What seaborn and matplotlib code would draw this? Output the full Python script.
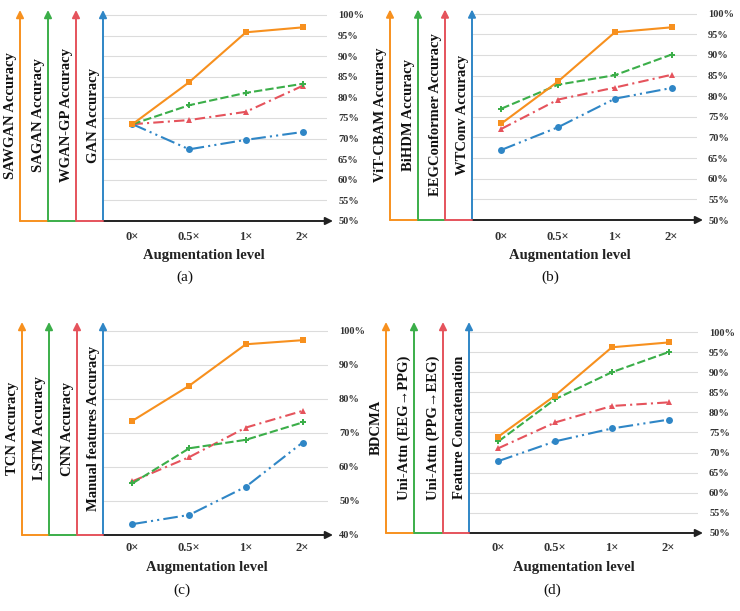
import numpy as np
import pandas as pd
import seaborn as sns
import matplotlib.pyplot as plt
from matplotlib.lines import Line2D

levels = ["0×", "0.5×", "1×", "2×"]

# (a) GAN variants
gan_names = ["SAWGAN Accuracy", "SAGAN Accuracy", "WGAN-GP Accuracy", "GAN Accuracy"]
sawgan_acc = [73.5, 83.7, 95.8, 97.0]
sagan_acc = [73.5, 78.1, 81.1, 83.3]
wgangp_acc = [73.5, 74.5, 76.5, 82.8]
gan_acc = [73.5, 67.4, 69.7, 71.6]

# (b) EEG models
eeg_names = ["ViT-CBAM Accuracy", "BiHDM Accuracy", "EEGConformer Accuracy", "WTConv Accuracy"]
vitcbam_acc = [73.4, 83.6, 95.5, 96.7]
bihdm_acc = [77.0, 82.8, 85.1, 90.1]
eegconformer_acc = [72.1, 79.2, 82.1, 85.2]
wtconv_acc = [67.0, 72.5, 79.4, 82.0]

# (c) classifiers
clf_names = ["TCN Accuracy", "LSTM Accuracy", "CNN Accuracy", "Manual features Accuracy"]
tcn_acc = [73.6, 83.9, 96.1, 97.3]
lstm_acc = [55.2, 65.5, 68.0, 73.1]
cnn_acc = [55.8, 62.9, 71.6, 76.5]
manual_acc = [43.2, 45.9, 54.2, 67.2]

# (d) fusion strategies
fusion_names = ["BDCMA", "Uni-Attn (EEG→PPG)", "Uni-Attn (PPG→EEG)", "Feature Concatenation"]
bdcma_acc = [74.0, 84.2, 96.2, 97.4]
eeg2ppg_acc = [72.8, 83.3, 90.0, 95.0]
ppg2eeg_acc = [71.1, 77.5, 81.6, 82.5]
concat_acc = [67.9, 72.8, 76.0, 78.2]

ticks_5 = [50, 55, 60, 65, 70, 75, 80, 85, 90, 95, 100]
ticks_10 = [40, 50, 60, 70, 80, 90, 100]

colors = ["#F7901E", "#3BAE49", "#E5535C", "#2F86C6"]
markers = ["s", "P", "^", "o"]
dash_styles = ["", (4, 1.5), (5, 2, 1, 2), (7, 2, 1, 2, 1, 2)]

sns.set_theme(style="white")
plt.rcParams["font.family"] = ["Liberation Serif", "DejaVu Serif"]

W, H = 740, 611
fig = plt.figure(figsize=(7.4, 6.11), dpi=100)


def fx(px):
    return px / W


def fy(px):
    return 1 - px / H


def draw_panel(names, values, yticks, axis_x, bottom, top, y100, grid_end, arrow_end,
               tick_y, label_xy, caption_xy, caption):
    blue_x = axis_x[3]
    ax = fig.add_axes([fx(blue_x), fy(bottom), (grid_end - blue_x) / W, (bottom - top) / H])

    df = pd.DataFrame({
        "level": np.tile(np.arange(len(levels)), len(names)),
        "accuracy": np.concatenate(values),
        "model": np.repeat(names, len(levels)),
    })
    sns.lineplot(data=df, x="level", y="accuracy", hue="model", style="model",
                 hue_order=names[::-1], style_order=names[::-1],
                 palette=dict(zip(names, colors)), markers=dict(zip(names, markers)),
                 dashes=dict(zip(names, dash_styles)), lw=1.5, ms=5, mew=0,
                 legend=False, ax=ax)

    ymin = yticks[0]
    ymax = ymin + (yticks[-1] - ymin) * (bottom - top) / (bottom - y100)
    ax.set_ylim(ymin, ymax)
    ax.set_xlim(-0.52, -0.52 + (grid_end - blue_x) / 56.7)
    ax.set_xticks(range(len(levels)), levels)
    ax.set_yticks(yticks, [f"{v}%" for v in yticks])
    ax.yaxis.tick_right()
    ax.tick_params(axis="y", length=0, pad=8, labelsize=7.5, labelcolor="#333333")
    ax.tick_params(axis="x", length=0, pad=(tick_y - bottom - 6) * 0.72,
                   labelsize=9, labelcolor="#333333")
    for lab in ax.get_xticklabels() + ax.get_yticklabels():
        lab.set_fontweight("bold")
    ax.yaxis.grid(True, color="#dcdcdc", lw=0.8)
    ax.xaxis.grid(False)
    for s in ax.spines.values():
        s.set_visible(False)
    ax.set_ylabel("")
    ax.set_xlabel("Augmentation level", fontsize=10.5, fontweight="bold", color="#222222")
    ax.xaxis.set_label_coords((label_xy[0] - blue_x) / (grid_end - blue_x),
                              (bottom - label_xy[1]) / (bottom - top))
    ax.xaxis.label.set_va("center")

    # stacked colored y axes on the left
    for i, x in enumerate(axis_x):
        ax.annotate("", xy=(fx(x), fy(top)), xytext=(fx(x), fy(bottom)),
                    xycoords="figure fraction",
                    arrowprops=dict(arrowstyle="-|>", color=colors[i], lw=1.4,
                                    shrinkA=0, shrinkB=0, mutation_scale=11))
        fig.text(fx(x - 9.5), fy((top + bottom) / 2), names[i], rotation=90,
                 ha="center", va="center", fontsize=10.5, fontweight="bold",
                 color="#111111")
    for i in range(3):
        fig.add_artist(Line2D([fx(axis_x[i]), fx(axis_x[i + 1])], [fy(bottom)] * 2,
                              color=colors[i], lw=1.4))
    ax.annotate("", xy=(fx(arrow_end), fy(bottom)), xytext=(fx(blue_x), fy(bottom)),
                xycoords="figure fraction",
                arrowprops=dict(arrowstyle="-|>", color="#222222", lw=1.4,
                                shrinkA=0, shrinkB=0, mutation_scale=11))

    fig.text(fx(caption_xy[0]), fy(caption_xy[1]), caption, ha="center", va="center",
             fontsize=11, color="#111111")


draw_panel(gan_names, [sawgan_acc, sagan_acc, wgangp_acc, gan_acc], ticks_5,
           [20, 48, 76, 103], 221, 10, 15, 327, 333, 237, (204, 256), (185, 277), "(a)")
draw_panel(eeg_names, [vitcbam_acc, bihdm_acc, eegconformer_acc, wtconv_acc], ticks_5,
           [390, 418, 445, 472], 220, 9.5, 13.7, 697, 703, 237, (570, 256), (550, 277), "(b)")
draw_panel(clf_names, [tcn_acc, lstm_acc, cnn_acc, manual_acc], ticks_10,
           [22, 49, 77, 103], 535, 322, 331, 328, 333, 548, (207, 567), (182, 590), "(c)")
draw_panel(fusion_names, [bdcma_acc, eeg2ppg_acc, ppg2eeg_acc, concat_acc], ticks_5,
           [386, 414, 443, 469], 533, 322, 332, 698, 703, 548, (574, 567), (552, 590), "(d)")

fig.savefig("out.png", dpi=100, facecolor="white")
